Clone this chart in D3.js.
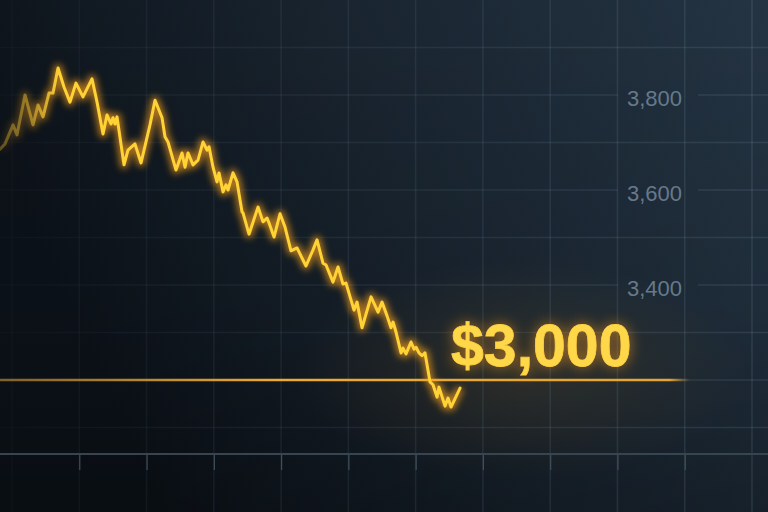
<!DOCTYPE html>
<html>
<head>
<meta charset="utf-8">
<script src="https://cdn.jsdelivr.net/npm/d3@7"></script>
<style>
  html, body { margin: 0; padding: 0; background: #111821; }
  svg { display: block; }
</style>
</head>
<body>
<svg id="chart" width="768" height="512"></svg>
<script>
// ---------- data ----------
const days = [-1.78,-1.04,0.15,0.74,1.93,3.12,3.87,4.61,5.50,6.09,6.84,7.73,8.62,9.51,10.55,11.89,12.64,13.53,14.12,14.72,15.01,15.31,15.61,16.65,17.24,18.28,19.18,20.51,21.26,22.30,22.74,23.19,24.38,25.27,25.72,26.16,26.91,27.65,28.39,28.99,29.29,29.88,30.47,30.77,31.37,31.81,32.11,32.85,33.45,34.19,34.34,35.23,36.57,37.31,37.91,38.20,38.95,39.84,40.58,41.47,42.37,43.70,44.75,45.34,46.23,46.68,47.72,48.46,49.20,49.65,50.84,51.29,52.03,53.37,54.41,55.00,55.75,56.34,56.64,57.08,57.83,58.12,58.57,59.31,59.76,60.06,60.50,60.95,61.39,62.14,62.58,63.18,63.47,64.37,64.81,65.26,66.60];
const prices = [3686,3697,3737,3716,3800,3737,3779,3754,3804,3804,3857,3817,3785,3825,3796,3834,3785,3718,3758,3739,3752,3739,3754,3653,3684,3697,3657,3737,3789,3752,3712,3701,3642,3678,3648,3678,3653,3663,3701,3684,3691,3648,3617,3636,3596,3611,3600,3636,3617,3554,3552,3507,3564,3533,3541,3531,3501,3550,3522,3472,3478,3440,3474,3495,3446,3442,3406,3438,3402,3404,3347,3364,3310,3375,3343,3364,3335,3310,3322,3301,3257,3267,3255,3280,3265,3269,3257,3251,3257,3196,3190,3164,3185,3145,3162,3143,3183];
const yTickLabels = [3400, 3600, 3800];
const gridValues = [3100, 3200, 3300, 3400, 3500, 3600, 3700, 3800, 3900];
const xGridValues = [0, 10, 20, 30, 40, 50, 60, 70, 80, 90, 100, 110];
const xTickValues = [10, 20, 30, 40, 50, 60, 70, 80, 90, 100];
const thresholdValue = 3200;
const thresholdLabel = "$3,000";

// ---------- layout ----------
const W = 768, H = 512;
const axisY = 454;
const svg = d3.select("#chart");
const x = d3.scaleLinear().domain([0, 110]).range([12, 752]);
const y = d3.scaleLinear().domain([3000, 3900]).range([475, 47.5]);

const defs = svg.append("defs");

// background gradient
const bg = defs.append("linearGradient").attr("id", "bg")
  .attr("x1", "0").attr("y1", "0.3").attr("x2", "1").attr("y2", "0");
bg.append("stop").attr("offset", "0").attr("stop-color", "#0c1219");
bg.append("stop").attr("offset", "0.45").attr("stop-color", "#18232e");
bg.append("stop").attr("offset", "1").attr("stop-color", "#243443");
const shade = defs.append("linearGradient").attr("id", "shade")
  .attr("x1", "0").attr("y1", "0").attr("x2", "0").attr("y2", "1");
shade.append("stop").attr("offset", "0").attr("stop-color", "#000").attr("stop-opacity", 0);
shade.append("stop").attr("offset", "0.6").attr("stop-color", "#000").attr("stop-opacity", 0.06);
shade.append("stop").attr("offset", "1").attr("stop-color", "#000").attr("stop-opacity", 0.25);
const warm = defs.append("radialGradient").attr("id", "warm")
  .attr("cx", "0.5").attr("cy", "0.5").attr("r", "0.5");
warm.append("stop").attr("offset", "0").attr("stop-color", "#ffae2a").attr("stop-opacity", 0.10);
warm.append("stop").attr("offset", "1").attr("stop-color", "#ffae2a").attr("stop-opacity", 0);

svg.append("rect").attr("width", W).attr("height", H).attr("fill", "url(#bg)");
svg.append("rect").attr("width", W).attr("height", H).attr("fill", "url(#shade)");
svg.append("ellipse").attr("cx", 520).attr("cy", 370).attr("rx", 230).attr("ry", 110).attr("fill", "url(#warm)");

// grid gradient (fades to the left)
const gg = defs.append("linearGradient").attr("id", "gridGrad")
  .attr("gradientUnits", "userSpaceOnUse").attr("x1", 0).attr("y1", 0).attr("x2", W).attr("y2", 0);
gg.append("stop").attr("offset", "0").attr("stop-color", "#7d98ad").attr("stop-opacity", 0.03);
gg.append("stop").attr("offset", "0.25").attr("stop-color", "#7d98ad").attr("stop-opacity", 0.09);
gg.append("stop").attr("offset", "1").attr("stop-color", "#7d98ad").attr("stop-opacity", 0.18);

// mask to cut horizontal grid behind labels
const mask = defs.append("mask").attr("id", "labelMask").attr("maskUnits", "userSpaceOnUse")
  .attr("x", 0).attr("y", 0).attr("width", W).attr("height", H);
mask.append("rect").attr("width", W).attr("height", H).attr("fill", "#fff");
mask.selectAll("rect.cut").data(yTickLabels).join("rect").attr("class", "cut")
  .attr("x", 618).attr("y", d => y(d) - 14).attr("width", 80).attr("height", 28).attr("fill", "#000");

// vertical grid
svg.append("g").selectAll("line").data(xGridValues).join("line")
  .attr("x1", d => x(d)).attr("x2", d => x(d)).attr("y1", 0).attr("y2", H)
  .attr("stroke", "url(#gridGrad)").attr("stroke-width", 1.5);
// horizontal grid
svg.append("g").attr("mask", "url(#labelMask)").selectAll("line").data(gridValues).join("line")
  .attr("x1", 0).attr("x2", W).attr("y1", d => y(d)).attr("y2", d => y(d))
  .attr("stroke", "url(#gridGrad)").attr("stroke-width", 1.5);

// y labels
svg.append("g").selectAll("text").data(yTickLabels).join("text")
  .attr("x", 627).attr("y", d => y(d) + 3).attr("dy", "0.35em")
  .attr("font-family", "'Liberation Sans', Arial, sans-serif").attr("font-size", 22)
  .attr("fill", "#66798a").text(d => d3.format(",")(d));

// bottom axis
svg.append("line").attr("x1", 0).attr("x2", W).attr("y1", axisY).attr("y2", axisY)
  .attr("stroke", "#36454f").attr("stroke-width", 2);
const xAxis = d3.axisBottom(x).tickValues(xTickValues).tickSize(15).tickFormat("");
const gx = svg.append("g").attr("transform", `translate(0,${axisY + 1})`).call(xAxis);
gx.select(".domain").remove();
gx.selectAll(".tick line").attr("stroke", "#3f4f5c").attr("stroke-width", 1.2);

// glow filters
const f1 = defs.append("filter").attr("id", "glow").attr("x", "-20%").attr("y", "-20%").attr("width", "140%").attr("height", "140%");
f1.append("feGaussianBlur").attr("stdDeviation", 3.5);
const f2 = defs.append("filter").attr("id", "glowBig").attr("x", "-30%").attr("y", "-60%").attr("width", "160%").attr("height", "220%");
f2.append("feGaussianBlur").attr("stdDeviation", 7);
const f3 = defs.append("filter").attr("id", "glowSmall").attr("x", "-10%").attr("y", "-300%").attr("width", "120%").attr("height", "700%");
f3.append("feGaussianBlur").attr("stdDeviation", 2.5);

// threshold line
const tg = defs.append("linearGradient").attr("id", "thrGrad")
  .attr("gradientUnits", "userSpaceOnUse").attr("x1", 0).attr("y1", 0).attr("x2", 690).attr("y2", 0);
tg.append("stop").attr("offset", "0").attr("stop-color", "#e0a233").attr("stop-opacity", 0.55);
tg.append("stop").attr("offset", "0.4").attr("stop-color", "#eeab32").attr("stop-opacity", 1);
tg.append("stop").attr("offset", "0.97").attr("stop-color", "#eeab32").attr("stop-opacity", 0.95);
tg.append("stop").attr("offset", "1").attr("stop-color", "#eeab32").attr("stop-opacity", 0);
const ty = y(thresholdValue);
svg.append("line").attr("x1", 0).attr("x2", 690).attr("y1", ty).attr("y2", ty)
  .attr("stroke", "url(#thrGrad)").attr("stroke-width", 6).attr("opacity", 0.7).attr("filter", "url(#glowSmall)");
svg.append("line").attr("x1", 0).attr("x2", 690).attr("y1", ty).attr("y2", ty)
  .attr("stroke", "url(#thrGrad)").attr("stroke-width", 2.4);

// price line
const pts = days.map((d, i) => [d, prices[i]]);
const line = d3.line().x(d => x(d[0])).y(d => y(d[1]));
const lg = defs.append("linearGradient").attr("id", "lineGrad")
  .attr("gradientUnits", "userSpaceOnUse").attr("x1", 0).attr("y1", 0).attr("x2", 60).attr("y2", 0);
lg.append("stop").attr("offset", "0").attr("stop-color", "#ffd236").attr("stop-opacity", 0.3);
lg.append("stop").attr("offset", "0.55").attr("stop-color", "#ffd236").attr("stop-opacity", 0.45);
lg.append("stop").attr("offset", "1").attr("stop-color", "#ffd236").attr("stop-opacity", 1);
const lgg = defs.append("linearGradient").attr("id", "lineGlowGrad")
  .attr("gradientUnits", "userSpaceOnUse").attr("x1", 0).attr("y1", 0).attr("x2", 60).attr("y2", 0);
lgg.append("stop").attr("offset", "0").attr("stop-color", "#ffa51a").attr("stop-opacity", 0.1);
lgg.append("stop").attr("offset", "1").attr("stop-color", "#ffa51a").attr("stop-opacity", 1);

svg.append("path").datum(pts).attr("d", line).attr("fill", "none")
  .attr("stroke", "url(#lineGlowGrad)").attr("stroke-width", 8).attr("opacity", 0.65)
  .attr("stroke-linejoin", "round").attr("filter", "url(#glow)");
svg.append("path").datum(pts).attr("d", line).attr("fill", "none")
  .attr("stroke", "url(#lineGrad)").attr("stroke-width", 3)
  .attr("stroke-linejoin", "round").attr("stroke-linecap", "round");

// big label
const lblX = 451, lblY = 366;
svg.append("text").attr("x", lblX).attr("y", lblY)
  .attr("font-family", "'Liberation Sans', Arial, sans-serif").attr("font-weight", 700).attr("font-size", 59)
  .attr("fill", "#ff9d1a").attr("opacity", 0.7).attr("filter", "url(#glowBig)").text(thresholdLabel);
svg.append("text").attr("x", lblX).attr("y", lblY)
  .attr("font-family", "'Liberation Sans', Arial, sans-serif").attr("font-weight", 700).attr("font-size", 59)
  .attr("fill", "#ffd84a").attr("stroke", "#ffd040").attr("stroke-width", 0.8).text(thresholdLabel);
</script>
</body>
</html>
